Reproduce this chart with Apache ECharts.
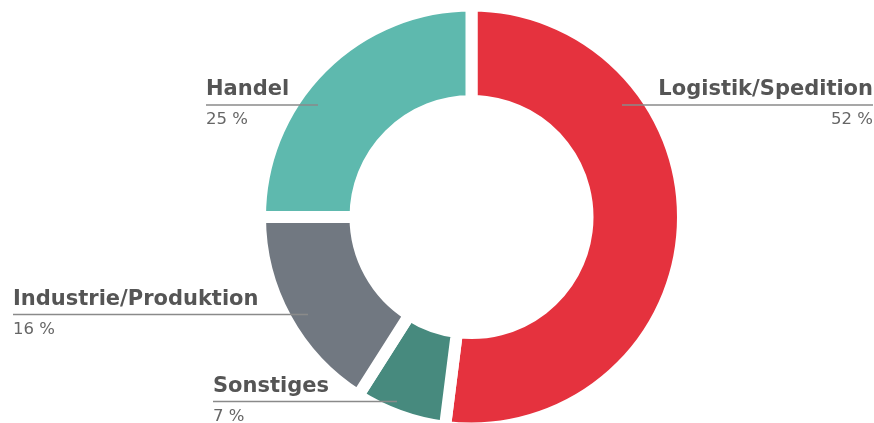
<!DOCTYPE html>
<html>
<head>
<meta charset="utf-8">
<script src="https://cdn.jsdelivr.net/npm/echarts@6/dist/echarts.min.js"></script>
<style>
  html, body { margin: 0; padding: 0; background: #ffffff; }
  #chart { width: 874px; height: 423px; }
</style>
</head>
<body>
<div id="chart"></div>
<script>
// ---- data ----
const categories = ['Logistik/Spedition', 'Sonstiges', 'Industrie/Produktion', 'Handel'];
const values = [52, 7, 16, 25];
const colors = ['#E5323E', '#478A7E', '#717881', '#5EB9AE'];

// ---- label placement (layout only) ----
const CX = 471.5, CY = 217;
const labelPlaces = {
  'Logistik/Spedition':   { x: 873, y: 105, align: 'right', lineEnd: 622 },
  'Sonstiges':            { x: 213, y: 401.5, align: 'left', lineEnd: 397 },
  'Industrie/Produktion': { x: 13,  y: 314.5, align: 'left', lineEnd: 308 },
  'Handel':               { x: 206, y: 105, align: 'left', lineEnd: 318 }
};

const chart = echarts.init(document.getElementById('chart'), null, { renderer: 'canvas' });

const common = {
  type: 'pie',
  center: [CX, CY],
  radius: [116, 211.5],
  startAngle: 90,
  clockwise: true,
  avoidLabelOverlap: false
};

chart.setOption({
  animation: false,
  backgroundColor: '#ffffff',
  series: [
    Object.assign({}, common, {
      z: 2,
      itemStyle: { borderColor: '#ffffff', borderWidth: 12, borderJoin: 'miter' },
      label: { show: false },
      labelLine: { show: false },
      data: categories.map((c, i) => ({ name: c, value: values[i], itemStyle: { color: colors[i] } }))
    }),
    Object.assign({}, common, {
      z: 5,
      silent: true,
      itemStyle: { color: 'rgba(0,0,0,0)', borderWidth: 0 },
      label: {
        show: true,
        position: 'outside',
        fontFamily: 'DejaVu Sans',
        formatter: p => '{n|' + p.name + '}\n{p|' + p.value + ' %}',
        rich: {
          n: { fontSize: 21, fontWeight: 'bold', color: '#555555', lineHeight: 30, fontFamily: 'DejaVu Sans' },
          p: { fontSize: 16.5, color: '#666666', lineHeight: 30, fontFamily: 'DejaVu Sans' }
        }
      },
      labelLine: {
        show: true,
        lineStyle: { color: '#8a8a8a', width: 1.5 }
      },
      labelLayout: function (params) {
        const pl = labelPlaces[categories[params.dataIndex]];
        const mid = (pl.x + pl.lineEnd) / 2;
        return {
          x: pl.x,
          y: pl.y,
          align: pl.align,
          verticalAlign: 'middle',
          labelLinePoints: [[pl.x, pl.y], [mid, pl.y], [pl.lineEnd, pl.y]]
        };
      },
      data: categories.map((c, i) => ({ name: c, value: values[i] }))
    })
  ]
});
</script>
</body>
</html>
